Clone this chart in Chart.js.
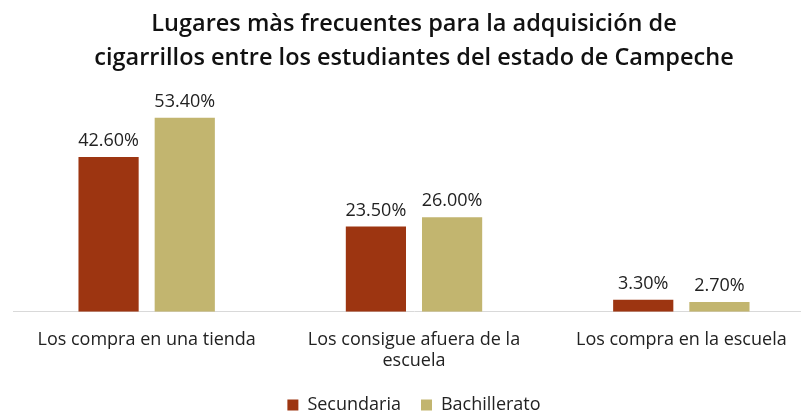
<!DOCTYPE html>
<html lang="es">
<head>
    <meta charset="UTF-8">
    <title>Lugares más frecuentes</title>
    <script src="https://cdn.jsdelivr.net/npm/chart.js"></script>
    <style>
        body {
            margin: 0;
            background: #fff;
            overflow: hidden;
        }
        .wrap {
            width: 815px;
            height: 424px;
        }
    </style>
</head>
<body>
    <div class="wrap"><canvas id="chart"></canvas></div>

    <script>
        const categories = [
            'Los compra en una tienda',
            ['Los consigue afuera de la', 'escuela'],
            'Los compra en la escuela'
        ];
        const secundaria = [42.6, 23.5, 3.3];
        const bachillerato = [53.4, 26.0, 2.7];

        const FONT = "'Open Sans', sans-serif";

        // writes the percentage over every bar
        const valueLabels = {
            id: 'valueLabels',
            afterDatasetsDraw(chart) {
                const ctx = chart.ctx;
                ctx.save();
                ctx.font = '18px ' + FONT;
                ctx.fillStyle = '#222';
                ctx.textAlign = 'center';
                ctx.textBaseline = 'bottom';
                chart.data.datasets.forEach((ds, i) => {
                    chart.getDatasetMeta(i).data.forEach((bar, j) => {
                        ctx.fillText(ds.data[j].toFixed(2) + '%', bar.x, bar.y - 7);
                    });
                });
                ctx.restore();
            }
        };

        new Chart(document.getElementById('chart'), {
            type: 'bar',
            data: {
                labels: categories,
                datasets: [{
                    label: 'Secundaria',
                    data: secundaria,
                    backgroundColor: '#9d3511'
                }, {
                    label: 'Bachillerato',
                    data: bachillerato,
                    backgroundColor: '#c2b56f'
                }]
            },
            options: {
                responsive: true,
                maintainAspectRatio: false,
                animation: false,
                categoryPercentage: 0.57,
                barPercentage: 0.79,
                layout: { padding: { left: 13, right: 0, top: 8, bottom: 0 } },
                scales: {
                    x: {
                        grid: { display: false },
                        border: { color: '#d9d9d9' },
                        ticks: { color: '#222', font: { family: FONT, size: 18, lineHeight: 1.2 }, maxRotation: 0, padding: 9 },
                        afterFit(scale) { scale.height -= 5; }
                    },
                    y: {
                        display: false,
                        min: 0,
                        max: 60
                    }
                },
                plugins: {
                    title: {
                        display: true,
                        text: ['Lugares màs frecuentes para la adquisición de',
                               'cigarrillos entre los estudiantes del estado de Campeche'],
                        color: '#111',
                        font: { family: FONT, size: 23.5, weight: '600', lineHeight: 1.42 },
                        padding: { top: 0, bottom: 19 }
                    },
                    legend: {
                        position: 'bottom',
                        labels: {
                            color: '#222',
                            font: { family: FONT, size: 18 },
                            boxWidth: 11,
                            boxHeight: 11,
                            padding: 20
                        }
                    },
                    tooltip: { enabled: false }
                }
            },
            plugins: [valueLabels]
        });
    </script>
</body>
</html>
